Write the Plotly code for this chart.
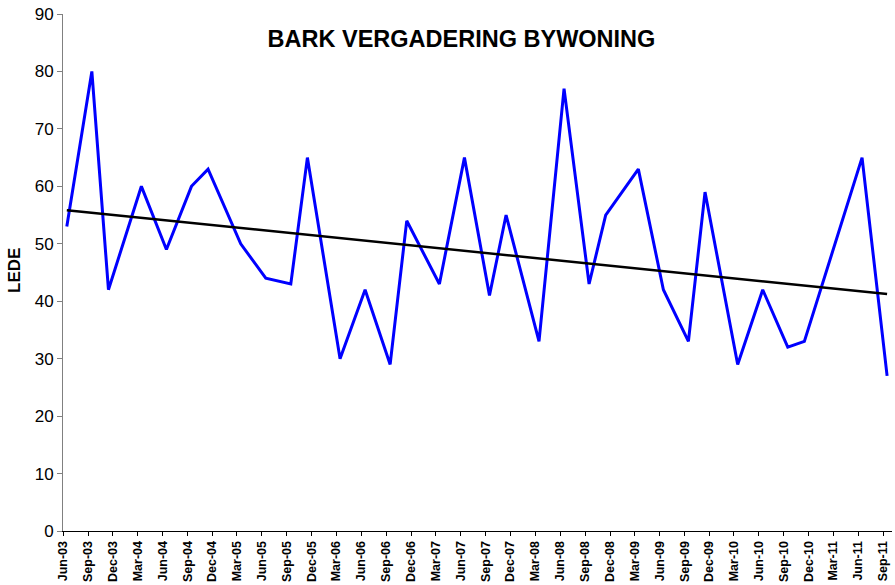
import numpy as np
import pandas as pd
import plotly.graph_objects as go

# Meeting dates (approx. mid-month) and attendance
dates = [
    "2003-06-15", "2003-09-15", "2003-11-15",
    "2004-03-15", "2004-06-15", "2004-09-15", "2004-11-15",
    "2005-03-15", "2005-06-15", "2005-09-15", "2005-11-15",
    "2006-03-15", "2006-06-15", "2006-09-15", "2006-11-15",
    "2007-03-15", "2007-06-15", "2007-09-15", "2007-11-15",
    "2008-03-15", "2008-06-15", "2008-09-15", "2008-11-15",
    "2009-03-15", "2009-06-15", "2009-09-15", "2009-11-15",
    "2010-03-15", "2010-06-15", "2010-09-15", "2010-11-15",
    "2011-03-15", "2011-06-15", "2011-09-15",
]
lede = [
    53, 80, 42,
    60, 49, 60, 63,
    50, 44, 43, 65,
    30, 42, 29, 54,
    43, 65, 41, 55,
    33, 77, 43, 55,
    63, 42, 33, 59,
    29, 42, 32, 33,
    51, 65, 27,
]

title_text = "BARK VERGADERING BYWONING"
y_title = "LEDE"

d = pd.to_datetime(dates)
t = (d - d[0]).days.values.astype(float)
slope, intercept = np.polyfit(t, np.array(lede, float), 1)
trend_x = [d[0], d[-1]]
trend_y = [intercept, intercept + slope * t[-1]]

FONT = "Arial, Liberation Sans, sans-serif"

fig = go.Figure()
fig.add_trace(go.Scatter(x=d, y=lede, mode="lines",
                         line=dict(color="#0000FF", width=3), showlegend=False))
fig.add_trace(go.Scatter(x=trend_x, y=trend_y, mode="lines",
                         line=dict(color="#000000", width=2.5), showlegend=False))

fig.update_layout(
    width=895, height=585,
    margin=dict(l=63, r=3, t=14, b=54),
    paper_bgcolor="white", plot_bgcolor="white",
    title=dict(text=title_text, x=0.4807, xref="paper", y=1 - 39 / 585, yref="container",
               xanchor="center", yanchor="middle",
               font=dict(family=FONT, size=23.5, color="black", weight="bold")),
    font=dict(family=FONT, color="black"),
)
fig.update_xaxes(
    type="date", range=["2003-06-01", "2011-10-03"],
    tick0="2003-06-01", dtick="M3", tickformat="%b-%y", tickangle=-90,
    tickfont=dict(family=FONT, size=12.5, color="black", weight="bold"),
    showgrid=False, zeroline=False,
    showline=True, linecolor="black", linewidth=1,
    ticks="outside", ticklen=4, tickcolor="black",
    automargin=False,
)
fig.update_yaxes(
    range=[0, 90], dtick=10,
    tickfont=dict(family=FONT, size=17, color="black"),
    showgrid=False, zeroline=False,
    showline=True, linecolor="#808080", linewidth=1,
    ticks="outside", ticklen=5, tickcolor="#808080",
    automargin=False,
)
fig.add_annotation(text=y_title, xref="paper", yref="paper",
                   x=(14 - 63) / 829, y=(531 - 271) / 517,
                   xanchor="center", yanchor="middle", textangle=-90, showarrow=False,
                   font=dict(family=FONT, size=17, color="black", weight="bold"))

fig.write_html("out.html", config={"displayModeBar": False},
               post_script="document.body.style.margin='0';")
